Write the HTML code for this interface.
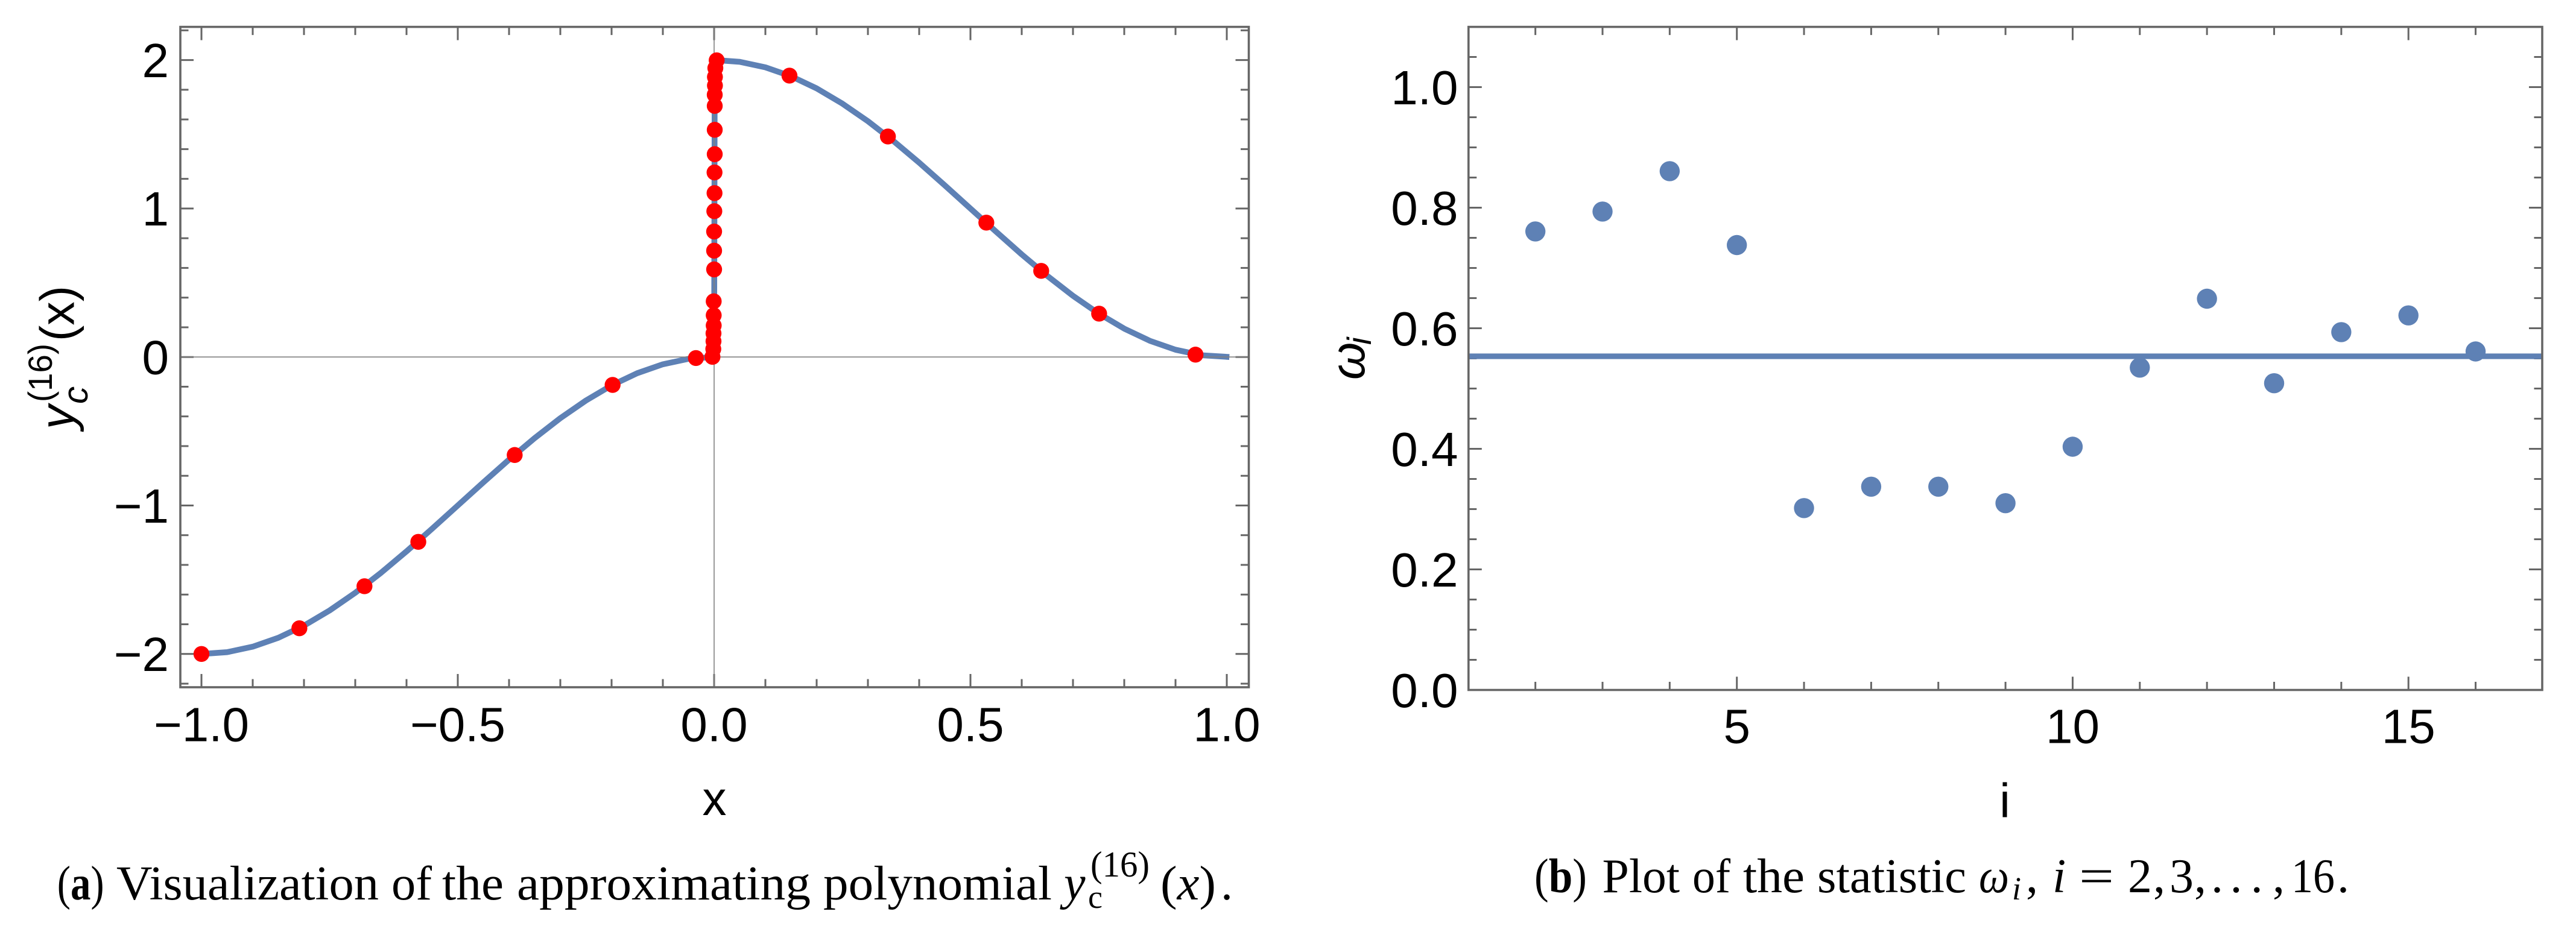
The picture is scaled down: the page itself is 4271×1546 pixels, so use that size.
<!DOCTYPE html>
<html lang="en">
<head>
<meta charset="utf-8">
<title>Approximating polynomial and statistic plots</title>
<style>
html,body{margin:0;padding:0;background:#fff;}
svg{display:block;}
.sans{font-family:"Liberation Sans",sans-serif;fill:#000;}
.serif{font-family:"Liberation Serif",serif;fill:#000;}
</style>
</head>
<body>
<svg id="figure" xmlns="http://www.w3.org/2000/svg" width="4271" height="1546" viewBox="0 0 4271 1546">
  <rect x="0" y="0" width="4271" height="1546" fill="#fff"/>
  <g id="panelA"></g>
  <g id="panelB"></g>

  <!-- axis titles panel a -->
  <text class="sans" x="1184.5" y="1352" font-size="80" text-anchor="middle">x</text>
  <g>
    <text class="sans" font-size="80" font-style="italic" transform="translate(122.7,712) rotate(-90)">y</text>
    <text class="sans" font-size="58" font-style="italic" transform="translate(145,670) rotate(-90)">c</text>
    <text class="sans" font-size="56" transform="translate(86,667) rotate(-90)" textLength="97" lengthAdjust="spacingAndGlyphs">(16)</text>
    <text class="sans" font-size="80" transform="translate(122.7,566) rotate(-90)" textLength="92" lengthAdjust="spacingAndGlyphs">(x)</text>
  </g>

  <!-- axis titles panel b -->
  <text class="sans" x="3324" y="1355.6" font-size="80" text-anchor="middle">i</text>
  <g>
    <text class="sans" font-size="80" font-style="italic" transform="translate(2262,630) rotate(-90)">ω</text>
    <text class="sans" font-size="56" font-style="italic" transform="translate(2273,572) rotate(-90)">i</text>
  </g>

  <!-- caption a -->
  <g font-size="80">
    <text class="serif" x="94.7" y="1492" textLength="78" lengthAdjust="spacingAndGlyphs">(<tspan font-weight="bold">a</tspan>)</text>
    <text class="serif" x="193" y="1492" textLength="435" lengthAdjust="spacingAndGlyphs">Visualization</text>
    <text class="serif" x="649" y="1492" textLength="67" lengthAdjust="spacingAndGlyphs">of</text>
    <text class="serif" x="733" y="1492" textLength="102" lengthAdjust="spacingAndGlyphs">the</text>
    <text class="serif" x="857" y="1492" textLength="487" lengthAdjust="spacingAndGlyphs">approximating</text>
    <text class="serif" x="1365" y="1492" textLength="379" lengthAdjust="spacingAndGlyphs">polynomial</text>
    <text class="serif" x="1764" y="1492" font-style="italic">y</text>
    <text class="serif" x="1804" y="1506" font-size="54">c</text>
    <text class="serif" x="1808" y="1454" font-size="60" textLength="98" lengthAdjust="spacingAndGlyphs">(16)</text>
    <text class="serif" x="1924" y="1492" textLength="92" lengthAdjust="spacingAndGlyphs">(<tspan font-style="italic">x</tspan>)</text>
    <text class="serif" x="2024" y="1492">.</text>
  </g>

  <!-- caption b -->
  <g font-size="80">
    <text class="serif" x="2544" y="1480" textLength="87" lengthAdjust="spacingAndGlyphs">(<tspan font-weight="bold">b</tspan>)</text>
    <text class="serif" x="2656.5" y="1480" textLength="128.5" lengthAdjust="spacingAndGlyphs">Plot</text>
    <text class="serif" x="2806" y="1480" textLength="63" lengthAdjust="spacingAndGlyphs">of</text>
    <text class="serif" x="2890" y="1480" textLength="102" lengthAdjust="spacingAndGlyphs">the</text>
    <text class="serif" x="3013" y="1480" textLength="247" lengthAdjust="spacingAndGlyphs">statistic</text>
    <text class="serif" x="3281" y="1480" font-style="italic" textLength="50" lengthAdjust="spacingAndGlyphs">ω</text>
    <text class="serif" x="3336" y="1492" font-size="54" font-style="italic">i</text>
    <text class="serif" x="3359" y="1480">,</text>
    <text class="serif" x="3403" y="1480" font-style="italic">i</text>
    <text class="serif" x="3447" y="1480" textLength="58" lengthAdjust="spacingAndGlyphs">=</text>
    <text class="serif" x="3528" y="1480">2</text>
    <text class="serif" x="3570" y="1480">,</text>
    <text class="serif" x="3597" y="1480">3</text>
    <text class="serif" x="3638" y="1480">,</text>
    <text class="serif" x="3666" y="1480">.</text>
    <text class="serif" x="3697.5" y="1480">.</text>
    <text class="serif" x="3731.7" y="1480">.</text>
    <text class="serif" x="3768" y="1480">,</text>
    <text class="serif" x="3799" y="1480" textLength="72" lengthAdjust="spacingAndGlyphs">16</text>
    <text class="serif" x="3875" y="1480">.</text>
  </g>
</svg>
<script>
/* ---------- Panel A data ---------- */
const curveX = [-1,-0.95,-0.9,-0.85,-0.8,-0.75,-0.7,-0.65,-0.6,-0.55,-0.5,-0.45,-0.4,-0.35,-0.3,-0.25,-0.2,-0.15,-0.1,-0.05,0,
                0.0012,0.05,0.1,0.15,0.2,0.25,0.3,0.35,0.4,0.45,0.5,0.55,0.6,0.65,0.7,0.75,0.8,0.85,0.9,0.95,1.005];
const curveY = [-2,-1.988,-1.951,-1.891,-1.809,-1.707,-1.588,-1.454,-1.309,-1.156,-1,-0.844,-0.691,-0.546,-0.412,-0.293,-0.191,-0.109,-0.049,-0.012,0,
                2,1.988,1.951,1.891,1.809,1.707,1.588,1.454,1.309,1.156,1,0.844,0.691,0.546,0.412,0.293,0.191,0.109,0.049,0.012,0];
const nodeX = [-1,-0.809,-0.682,-0.577,-0.389,-0.198,-0.0355,
               -0.0032,-0.0016,-0.0012,-0.0012,-0.0008,-0.0008,-0.0008,0,0,0,0.0004,0.0008,0.0008,0.0012,0.0012,0.0012,0.0012,0.0016,0.0016,0.0024,0.005,
               0.147,0.339,0.531,0.638,0.751,0.939];
const nodeY = [-2,-1.827,-1.544,-1.245,-0.66,-0.188,-0.007,
               0.001,0.054,0.106,0.159,0.212,0.281,0.375,0.59,0.716,0.845,0.982,1.104,1.243,1.366,1.53,1.691,1.766,1.828,1.886,1.946,1.998,
               1.895,1.485,0.905,0.58,0.292,0.016];
const aXMajor = [-1,-0.5,0,0.5,1];
const aXMajorLabels = ["\u22121.0","\u22120.5","0.0","0.5","1.0"];
const aXMinor = [-0.9,-0.8,-0.7,-0.6,-0.4,-0.3,-0.2,-0.1,0.1,0.2,0.3,0.4,0.6,0.7,0.8,0.9];
const aYMajor = [-2,-1,0,1,2];
const aYMajorLabels = ["\u22122","\u22121","0","1","2"];
const aYMinor = [-2.2,-1.8,-1.6,-1.4,-1.2,-0.8,-0.6,-0.4,-0.2,0.2,0.4,0.6,0.8,1.2,1.4,1.6,1.8,2.2];

/* ---------- Panel B data ---------- */
const statIndex = [2,3,4,5,6,7,8,9,10,11,12,13,14,15,16];
const statValue = [0.7606,0.7936,0.8606,0.738,0.3017,0.3372,0.3372,0.3098,0.4035,0.5347,0.649,0.5088,0.5936,0.6213,0.5615];
const statMean = [0.5535];
const bXMajor = [5,10,15];
const bXMajorLabels = ["5","10","15"];
const bXMinor = [2,3,4,6,7,8,9,11,12,13,14,16];
const bYMajor = [0,0.2,0.4,0.6,0.8,1];
const bYMajorLabels = ["0.0","0.2","0.4","0.6","0.8","1.0"];
const bYMinor = [0.05,0.1,0.15,0.25,0.3,0.35,0.45,0.5,0.55,0.65,0.7,0.75,0.85,0.9,0.95,1.05];

/* ---------- Axis functions ---------- */
const ax = v => 1184 + 850 * v;
const ay = v => 592.2 - 246.3 * v;
const bx = v => 2434.3 + 111.35 * (v - 1);
const by = v => 1144.5 - 1000 * v;

const SVGNS = "http://www.w3.org/2000/svg";
const AXIS = "#666666", BLUE = "#5E81B5", RED = "#FF0000";
function mk(parent, tag, attrs, text){
  const el = document.createElementNS(SVGNS, tag);
  for (const k in attrs) el.setAttribute(k, attrs[k]);
  if (text !== undefined) el.textContent = text;
  parent.appendChild(el);
  return el;
}
function line(parent, x1, y1, x2, y2, w, col){
  return mk(parent, "line", {x1:x1, y1:y1, x2:x2, y2:y2, stroke:col, "stroke-width":w});
}

/* ---------- Frame and ticks ---------- */
function drawFrame(g, L, R, T, B, xf, yf, xMaj, xMin, yMaj, yMin, name){
  for (const v of xMaj){
    const a = line(g, xf(v), T, xf(v), T+22, 3, AXIS);
    
    
    const b = line(g, xf(v), B, xf(v), B-22, 3, AXIS);
    
    
  }
  for (const v of xMin){
    const a = line(g, xf(v), T, xf(v), T+13.5, 3, AXIS);
    
    
    const b = line(g, xf(v), B, xf(v), B-13.5, 3, AXIS);
    
    
  }
  for (const v of yMaj){
    const a = line(g, L, yf(v), L+22, yf(v), 3, AXIS);
    
    
    const b = line(g, R, yf(v), R-22, yf(v), 3, AXIS);
    
    
  }
  for (const v of yMin){
    const a = line(g, L, yf(v), L+13.5, yf(v), 3, AXIS);
    
    
    const b = line(g, R, yf(v), R-13.5, yf(v), 3, AXIS);
    
    
  }
}
function drawBorder(g, L, R, T, B, name){
  const r = mk(g, "rect", {x:L, y:T, width:R-L, height:B-T, fill:"none", stroke:AXIS, "stroke-width":3.6});
  
  
}
function drawLabels(g, vals, labels, xf, yf, xBase, yBase, horizontal, name){
  vals.forEach((v,i) => {
    const attrs = horizontal
      ? {x:xf(v), y:yBase, "text-anchor":"middle", "font-size":80, class:"sans"}
      : {x:xBase, y:yf(v)+28.3, "text-anchor":"end", "font-size":80, class:"sans"};
    const t = mk(g, "text", attrs, labels[i]);
    
    
  });
}

/* ---------- Panel A ---------- */
const gA = document.getElementById("panelA");
const A = {L:299, R:2070.5, T:44.6, B:1140};
drawFrame(gA, A.L, A.R, A.T, A.B, ax, ay, aXMajor, aXMinor, aYMajor, aYMinor, "panel-a");

const curvePts = curveX.map((x,i) => ax(x).toFixed(2) + "," + ay(curveY[i]).toFixed(2)).join(" ");
const curve = mk(gA, "polyline", {points:curvePts, fill:"none", stroke:BLUE, "stroke-width":9.6, "stroke-linejoin":"round"});



const zeroH = line(gA, A.L, ay(0), A.R, ay(0), 1.6, "#808080");


const zeroV = line(gA, ax(0), A.T, ax(0), A.B, 1.6, "#808080");



nodeX.forEach((x,i) => {
  const c = mk(gA, "circle", {cx:ax(x), cy:ay(nodeY[i]), r:13.2, fill:RED});
  
  
});
drawBorder(gA, A.L, A.R, A.T, A.B, "panel-a");
drawLabels(gA, aXMajor, aXMajorLabels, ax, ay, 0, 1229.5, true, "x-axis-a");
drawLabels(gA, aYMajor, aYMajorLabels, ax, ay, 280, 0, false, "y-axis-a");

/* ---------- Panel B ---------- */
const gB = document.getElementById("panelB");
const B = {L:2434.8, R:4215, T:44.6, B:1144.5};
drawFrame(gB, B.L, B.R, B.T, B.B, bx, by, bXMajor, bXMinor, bYMajor.filter(v => v > 0), bYMinor, "panel-b");

const meanLine = line(gB, B.L, by(statMean[0]), B.R, by(statMean[0]), 9.2, BLUE);



statIndex.forEach((x,i) => {
  const c = mk(gB, "circle", {cx:bx(x), cy:by(statValue[i]), r:16.7, fill:BLUE});
  
  
});
drawBorder(gB, B.L, B.R, B.T, B.B, "panel-b");
drawLabels(gB, bXMajor, bXMajorLabels, bx, by, 0, 1232.5, true, "x-axis-b");
drawLabels(gB, bYMajor, bYMajorLabels, bx, by, 2417.5, 0, false, "y-axis-b");
</script>
</body>
</html>
